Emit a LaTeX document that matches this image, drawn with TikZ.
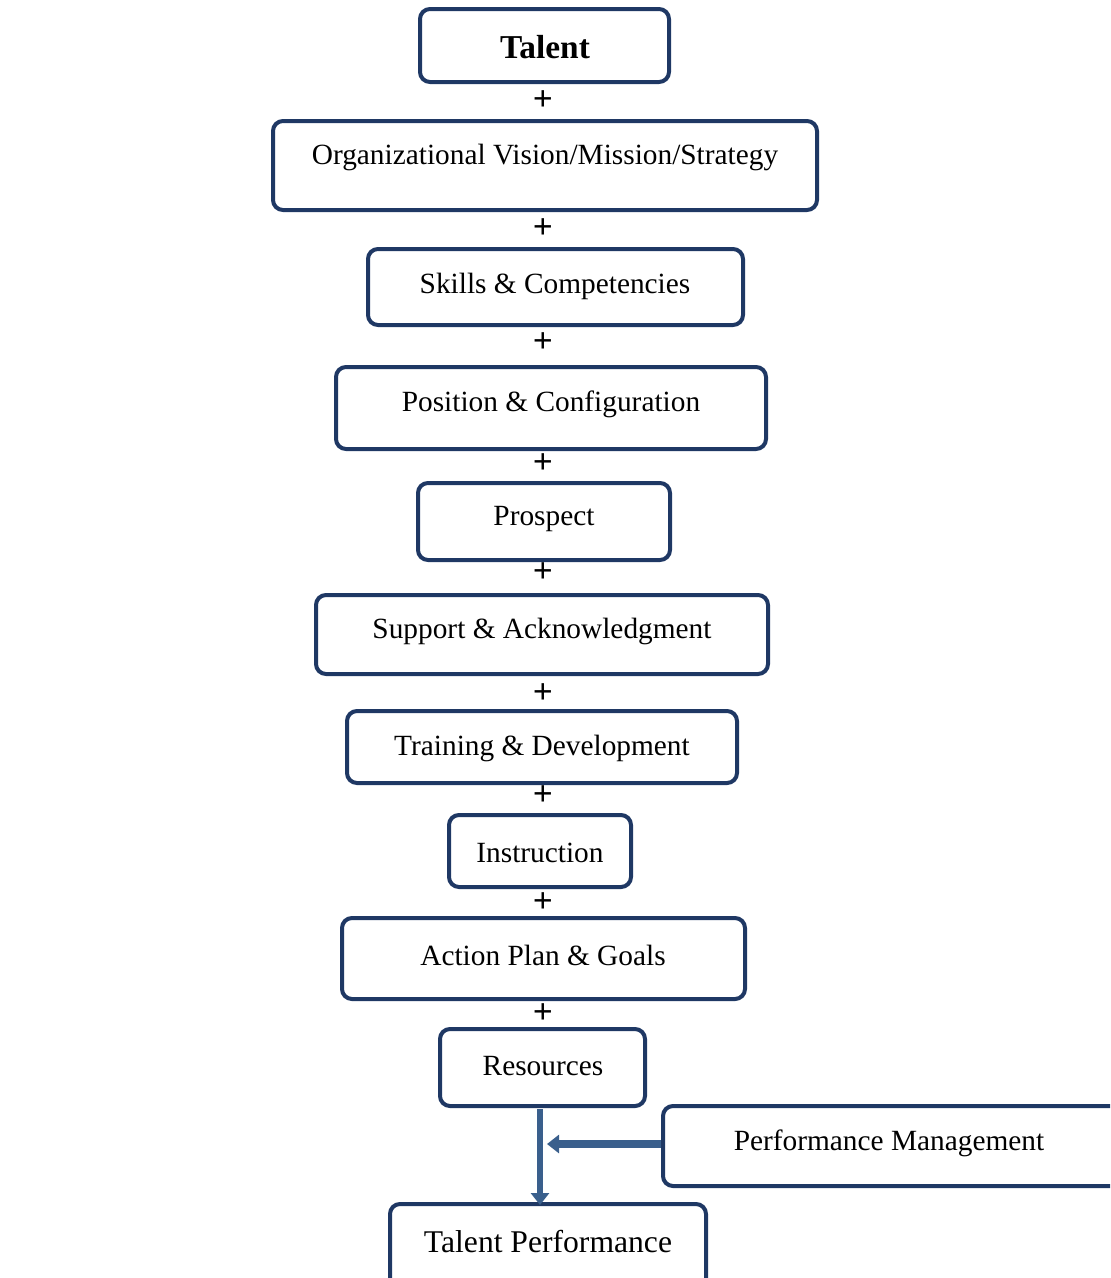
\documentclass[tikz,border=0pt]{standalone}
\usepackage{fontspec}
\setmainfont{Liberation Serif}
\usetikzlibrary{fit,arrows.meta}

\definecolor{boxblue}{RGB}{31,56,100}
\definecolor{arrowblue}{RGB}{58,95,140}

\tikzset{
  stagebox/.style={draw=boxblue, line width=0.08cm, rounded corners=0.2cm,
    inner sep=0pt},
  stagetext/.style={font=\fontsize{16.7}{19}\selectfont, inner sep=0pt,
    yshift=-0.05cm},
  plussign/.style={font=\fontsize{20}{22}\selectfont\bfseries, inner sep=0pt},
  flowarrow/.style={draw=arrowblue, line width=0.12cm,
    -{Triangle[length=0.24cm,width=0.36cm]}}
}

\begin{document}
\begin{tikzpicture}[x=0.02cm,y=-0.02cm]
        % Paso 1: Fija el marco de la figura
        \useasboundingbox (0,0) rectangle (1110,1278);
        \clip (0,0) rectangle (1110,1278);

        % Paso 2: Dibuja la caja superior (Talent)
        \node[stagebox, fit={(420,9) (669,82)}] (talent) {};
        \node[stagetext, font=\fontsize{19}{22}\selectfont\bfseries] (talenttxt) at (545,45) {Talent};

        % Paso 3: Dibuja las cajas de la cadena central
        \node[stagebox, fit={(273,121) (817,210)}] (vision) {};
        \node[stagetext] (visiontxt) at (545,155) {Organizational Vision/Mission/Strategy};

        \node[stagebox, fit={(368,249) (743,325)}] (skills) {};
        \node[stagetext] (skillstxt) at (555,284) {Skills \& Competencies};

        \node[stagebox, fit={(336,367) (766,449)}] (position) {};
        \node[stagetext] (positiontxt) at (551,402) {Position \& Configuration};

        \node[stagebox, fit={(418,483) (670,560)}] (prospect) {};
        \node[stagetext] (prospecttxt) at (544,517) {Prospect};

        \node[stagebox, fit={(316,595) (768,674)}] (support) {};
        \node[stagetext] (supporttxt) at (542,629) {Support \& Acknowledgment};

        \node[stagebox, fit={(347,711) (737,783)}] (training) {};
        \node[stagetext] (trainingtxt) at (542,746) {Training \& Development};

        \node[stagebox, fit={(449,815) (631,887)}] (instruction) {};
        \node[stagetext] (instructiontxt) at (540,850) {Instruction};

        \node[stagebox, fit={(342,918) (745,999)}] (action) {};
        \node[stagetext] (actiontxt) at (543,953) {Action Plan \& Goals};

        \node[stagebox, fit={(440,1029) (645,1106)}] (resources) {};
        \node[stagetext] (resourcestxt) at (543,1064) {Resources};

        % Paso 4: Pon los signos + entre las cajas
        \foreach \y in {101,229,343,464,573,694,796,903,1014}
            \node[plussign] (plus\y) at (543,\y) {+};

        % Paso 5: Dibuja la caja lateral y la caja final
        \node[stagebox, fit={(663,1106) (1125,1186)}] (perfmgmt) {};
        \node[stagetext] (perfmgmttxt) at (889,1141) {Performance Management};

        \node[stagebox, fit={(390,1204) (706,1295)}] (talentperf) {};
        \node[stagetext, font=\fontsize{18}{21}\selectfont] (talentperftxt) at (548,1239) {Talent Performance};

        % Paso 6: Flechas hacia Talent Performance
        \coordinate (flowtop) at (540,1109);
        \coordinate (flowend) at (540,1205);
        \coordinate (flowjoin) at (540,1144);
        \draw[flowarrow] (flowtop) -- (flowend);
        \draw[flowarrow, line width=0.16cm, shorten >=0.14cm] (perfmgmt.west |- flowjoin) -- (flowjoin);
\end{tikzpicture}
\end{document}
